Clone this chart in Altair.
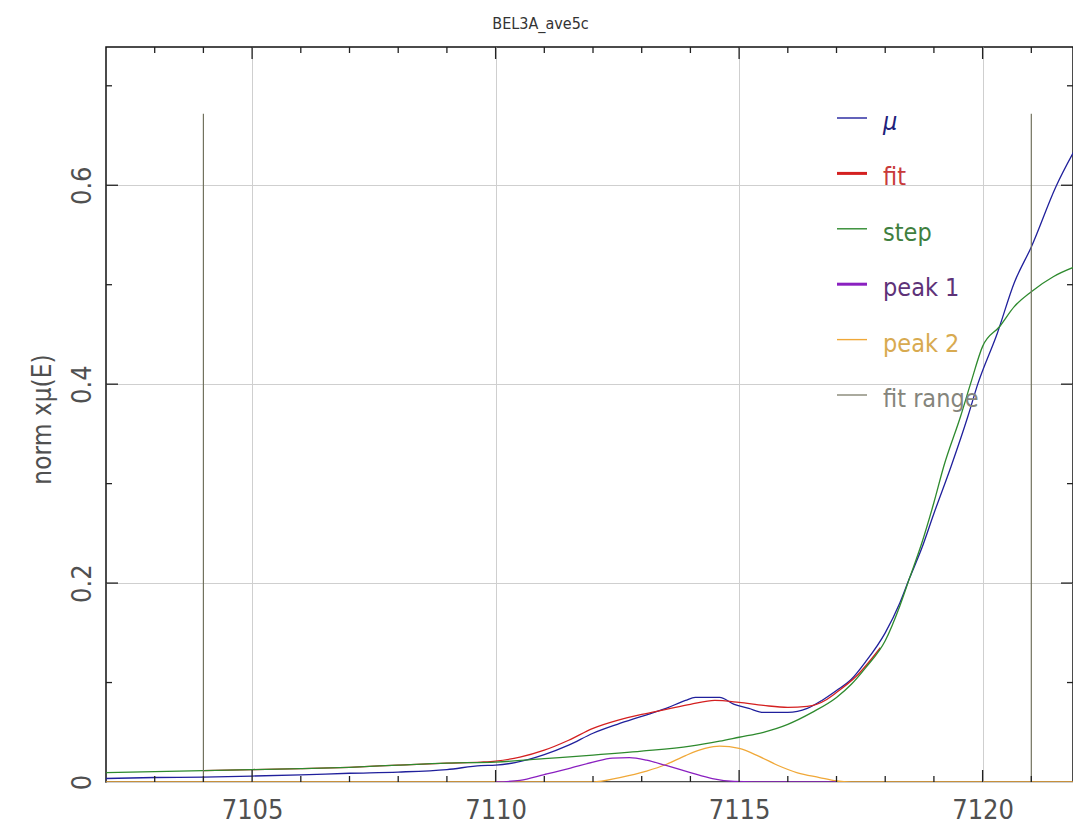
import altair as alt
import pandas as pd

TITLE = "BEL3A_ave5c"
Y_TITLE = "norm xμ(E)"

# ---- data ----
mu_e = [7102.0, 7103.0, 7104.0, 7105.0, 7106.0, 7107.0, 7108.0, 7109.0, 7109.7, 7110.0,
        7110.4, 7111.0, 7111.5, 7112.0, 7112.5, 7113.0, 7113.5, 7113.9, 7114.1, 7114.6,
        7114.9, 7115.2, 7115.5, 7116.0, 7116.4, 7116.7, 7117.0, 7117.3, 7117.6, 7118.0,
        7118.3, 7118.5, 7118.75, 7119.0, 7119.35, 7119.7, 7119.9, 7120.3, 7120.65, 7121.0,
        7121.5, 7122.0]
mu_v = [0.0035, 0.0045, 0.005, 0.006, 0.0072, 0.0088, 0.010, 0.0125, 0.0165, 0.017,
        0.0195, 0.0275, 0.037, 0.049, 0.058, 0.066, 0.074, 0.082, 0.085, 0.085,
        0.078, 0.074, 0.070, 0.070, 0.074, 0.082, 0.092, 0.103, 0.121, 0.150,
        0.180, 0.205, 0.235, 0.270, 0.317, 0.368, 0.400, 0.451, 0.502, 0.538,
        0.598, 0.645]

step_e = [7102, 7103, 7104, 7105, 7106, 7107, 7108, 7109, 7110, 7111, 7112, 7113, 7114,
          7114.6, 7115, 7115.5, 7116, 7116.5, 7117.0, 7117.3, 7117.6, 7118.0, 7118.3,
          7118.5, 7118.75, 7119.0, 7119.2, 7119.55, 7119.75, 7120.0, 7120.35, 7120.65,
          7121.0, 7121.45, 7122.0]
step_v = [0.0095, 0.0105, 0.0115, 0.0125, 0.0135, 0.0148, 0.017, 0.019, 0.020, 0.0235,
          0.027, 0.031, 0.036, 0.041, 0.045, 0.050, 0.058, 0.070, 0.085, 0.098, 0.115,
          0.142, 0.177, 0.205, 0.240, 0.281, 0.317, 0.368, 0.400, 0.438, 0.458, 0.478,
          0.493, 0.508, 0.520]

fit_e = [7104, 7105, 7106, 7107, 7108, 7109, 7109.7, 7110, 7110.5, 7111, 7111.5, 7112,
         7112.5, 7113, 7113.5, 7114, 7114.5, 7115, 7115.5, 7116, 7116.4, 7116.8, 7117.0,
         7117.4, 7117.9]
fit_v = [0.0115, 0.0125, 0.0135, 0.0148, 0.017, 0.019, 0.020, 0.021, 0.025, 0.032, 0.042,
         0.054, 0.062, 0.068, 0.073, 0.078, 0.082, 0.080, 0.077, 0.075, 0.076, 0.083,
         0.090, 0.106, 0.135]

peak1_e = [7110.0, 7110.5, 7111.0, 7111.5, 7112.0, 7112.4, 7112.75, 7113.1, 7113.5,
           7114.0, 7114.45, 7114.9, 7115.3, 7117.0]
peak1_v = [0.0, 0.0017, 0.0075, 0.0135, 0.020, 0.024, 0.0245, 0.022, 0.0166, 0.0095,
           0.0035, 0.0005, 0.0, 0.0]

peak2_e = [7102.0, 7112.0, 7112.55, 7113.1, 7113.5, 7113.9, 7114.3, 7114.6, 7115.0,
           7115.4, 7115.8, 7116.2, 7116.65, 7117.0, 7117.3, 7122.0]
peak2_v = [0.0, 0.0, 0.0045, 0.011, 0.0176, 0.0266, 0.0337, 0.036, 0.0337, 0.026,
           0.0166, 0.0092, 0.0045, 0.001, 0.0, 0.0]

fit_range = [7104, 7121]
fit_range_top = 0.672

x_major = [7105, 7110, 7115, 7120]
x_minor = [7103, 7104, 7106, 7107, 7108, 7109, 7111, 7112, 7113, 7114, 7116, 7117,
           7118, 7119, 7121]
y_major = [0.0, 0.2, 0.4, 0.6]
y_minor = [0.1, 0.3, 0.5, 0.7]

legend_labels = ["μ", "fit", "step", "peak 1", "peak 2", "fit range"]
legend_colors = ["#20209c", "#d42020", "#2e8a2e", "#8a20c0", "#f0a838", "#72725e"]
legend_text_colors = ["#20207a", "#c83a3a", "#3f7f3f", "#5e3278", "#d8aa50", "#85857c"]
legend_widths = [1.4, 3.0, 1.4, 3.0, 1.4, 1.2]

# ---- layout ----
# the reference's plot runs off the right edge of the picture: show the part that fits
W, H = 967, 735
X_MIN, X_MAX = 7102, 7121.856
FONT = "DejaVu Sans Condensed"
xscale = alt.Scale(domain=[X_MIN, X_MAX], nice=False, zero=False)
yscale = alt.Scale(domain=[0, 0.739], nice=False, zero=False)

XAX = alt.Axis(values=x_major, grid=True, gridColor="#cfcfcf", gridWidth=1,
               ticks=False, domain=False, labelFontSize=27, labelFont=FONT,
               labelColor="#505050", labelPadding=15, labelBaseline="top",
               format="d", title=None)
YAX = alt.Axis(values=y_major, grid=True, gridColor="#cfcfcf", gridWidth=1,
               ticks=False, domain=False, labelFontSize=27, labelFont=FONT,
               labelColor="#505050", labelAngle=270, labelAlign="center",
               labelBaseline="alphabetic", labelPadding=16,
               labelExpr="datum.value == 0 ? '0' : format(datum.value, '.1f')",
               title=Y_TITLE, titleFont=FONT, titleFontSize=26,
               titleFontWeight="normal", titleColor="#505050", titleAngle=270,
               titleAlign="center", titleBaseline="middle", titleX=-64,
               titleY=372)

X = lambda: alt.X("energy:Q", scale=xscale, axis=XAX)
Y = lambda: alt.Y("value:Q", scale=yscale, axis=YAX)


def curve(e, v, color, width=1.3):
    df = pd.DataFrame({"energy": e, "value": v})
    return alt.Chart(df).mark_line(color=color, strokeWidth=width,
                                   interpolate="monotone", clip=True).encode(x=X(), y=Y())


layers = []
layers.append(curve(mu_e, mu_v, legend_colors[0]))
layers.append(curve(fit_e, fit_v, legend_colors[1]))
layers.append(curve(step_e, step_v, legend_colors[2]))
layers.append(curve(peak2_e, peak2_v, legend_colors[4]))
layers.append(curve(peak1_e, peak1_v, legend_colors[3]))

# fit range lines
fr = pd.DataFrame({"energy": fit_range, "value": [0.0, 0.0], "hi": [fit_range_top] * 2})
layers.append(alt.Chart(fr).mark_rule(color=legend_colors[5], strokeWidth=1.2).encode(
    x=X(), y=Y(), y2="hi:Q"))


# inward ticks on all four sides
def xticks(vals, length):
    d = pd.DataFrame({"energy": vals})
    b = alt.Chart(d).mark_rule(color="#222", strokeWidth=1.3).encode(
        x=X(), y=alt.value(H), y2=alt.value(H - length))
    t = alt.Chart(d).mark_rule(color="#222", strokeWidth=1.3).encode(
        x=X(), y=alt.value(0), y2=alt.value(length))
    return [b, t]


def yticks(vals, length):
    d = pd.DataFrame({"value": vals})
    l = alt.Chart(d).mark_rule(color="#222", strokeWidth=1.3).encode(
        y=Y(), x=alt.value(0), x2=alt.value(length))
    r = alt.Chart(d).mark_rule(color="#222", strokeWidth=1.3).encode(
        y=Y(), x=alt.value(W), x2=alt.value(W - length))
    return [l, r]


layers += xticks(x_major, 12) + xticks(x_minor, 6)
layers += yticks(y_major[1:], 12) + yticks(y_minor, 6)

# legend
LEG_X0, LEG_X1, LEG_TX = 731, 761, 777
LEG_Y0, LEG_DY = 71, 55.4
for i, (lab, col, tcol, w) in enumerate(zip(legend_labels, legend_colors,
                                             legend_text_colors, legend_widths)):
    d = pd.DataFrame({"label": [lab]})
    yy = LEG_Y0 + i * LEG_DY
    layers.append(alt.Chart(d).mark_rule(color=col, strokeWidth=w).encode(
        x=alt.value(LEG_X0), x2=alt.value(LEG_X1), y=alt.value(yy)))
    layers.append(alt.Chart(d).mark_text(
        align="left", baseline="middle", font=FONT, fontSize=25, color=tcol,
        fontStyle="italic" if lab == "μ" else "normal", dy=4).encode(
        x=alt.value(LEG_TX), y=alt.value(yy), text="label:N"))

chart = alt.layer(*layers).properties(
    width=W, height=H,
    autosize="none",
    padding={"left": 98, "top": 39, "right": 0, "bottom": 45},
    title=alt.TitleParams(TITLE, font=FONT, fontSize=16, fontWeight="normal",
                          color="#333333", anchor="middle", dx=-49, offset=14),
).configure_view(stroke="#111111", strokeWidth=1.5)

chart.save("out.html", embed_options={"renderer": "svg", "actions": False})
